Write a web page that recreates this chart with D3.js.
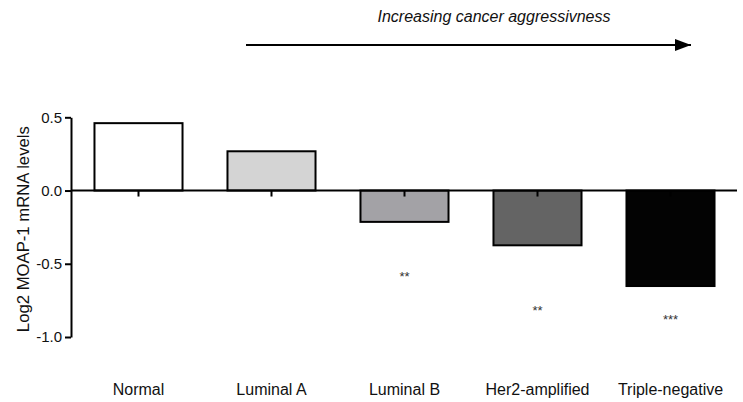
<!DOCTYPE html>
<html>
<head>
<meta charset="utf-8">
<script src="https://cdn.jsdelivr.net/npm/d3@7"></script>
<style>
  html, body { margin: 0; padding: 0; background: #fff; }
  svg { display: block; font-family: Arial, "Liberation Sans", sans-serif; }
</style>
</head>
<body>
<div id="chart"></div>
<script>
const categories = ["Normal", "Luminal A", "Luminal B", "Her2-amplified", "Triple-negative"];
const values = [0.46, 0.268, -0.214, -0.374, -0.652];
const barColors = ["#ffffff", "#d4d4d4", "#a3a2a6", "#646464", "#030303"];
const sigLabels = ["", "", "**", "**", "***"];
const sigLevels = [null, null, -0.585, -0.815, -0.875]; // where the stars sit, in axis units
const yTicks = [0.5, 0.0, -0.5, -1.0];

const width = 743, height = 402;

const svg = d3.select("#chart").append("svg")
  .attr("width", width)
  .attr("height", height);

const x = d3.scaleBand()
  .domain(categories)
  .range([72, 737])
  .paddingInner(0.338)
  .paddingOuter(0.169);

const y = d3.scaleLinear()
  .domain([-1, 0.5])
  .range([337, 117.3]);

// bars
svg.append("g")
  .selectAll("rect")
  .data(categories)
  .join("rect")
  .attr("x", d => x(d))
  .attr("width", x.bandwidth())
  .attr("y", (d, i) => y(Math.max(0, values[i])))
  .attr("height", (d, i) => Math.abs(y(values[i]) - y(0)))
  .attr("fill", (d, i) => barColors[i])
  .attr("stroke", "#000")
  .attr("stroke-width", 2);

// zero line with category ticks
const xAxis = svg.append("g")
  .attr("transform", `translate(0,${y(0)})`)
  .call(d3.axisBottom(x).tickSize(6).tickFormat(""));
xAxis.select(".domain").attr("d", `M${x.range()[0]},0H${x.range()[1]}`).attr("stroke-width", 2);
xAxis.selectAll(".tick line").attr("stroke-width", 2);

// category labels
svg.append("g")
  .selectAll("text")
  .data(categories)
  .join("text")
  .attr("x", d => x(d) + x.bandwidth() / 2)
  .attr("y", 395)
  .attr("text-anchor", "middle")
  .attr("font-size", 16)
  .attr("fill", "#111")
  .text(d => d);

// y axis
const fmt = d3.format(".1f");
const yAxis = svg.append("g")
  .attr("transform", "translate(71,0)")
  .call(d3.axisLeft(y).tickValues(yTicks).tickSize(6).tickSizeOuter(0).tickPadding(3)
    .tickFormat(d => fmt(d).replace("\u2212", "-")));
yAxis.select(".domain").attr("stroke-width", 2);
yAxis.selectAll(".tick line").attr("stroke-width", 2);
yAxis.selectAll(".tick text").attr("font-size", 15).attr("fill", "#111").attr("font-family", "Arial, 'Liberation Sans', sans-serif");

svg.append("text")
  .attr("transform", `translate(29,${(y(0.5) + y(-1)) / 2 + 2}) rotate(-90)`)
  .attr("text-anchor", "middle")
  .attr("font-size", 16)
  .attr("textLength", 206)
  .attr("lengthAdjust", "spacingAndGlyphs")
  .attr("fill", "#111")
  .text("Log2 MOAP-1 mRNA levels");

// significance stars
svg.append("g")
  .selectAll("text")
  .data(categories.filter((d, i) => sigLabels[i]))
  .join("text")
  .attr("x", d => x(d) + x.bandwidth() / 2)
  .attr("y", d => y(sigLevels[categories.indexOf(d)]) + 5)
  .attr("text-anchor", "middle")
  .attr("font-size", 13)
  .attr("fill", "#333")
  .text(d => sigLabels[categories.indexOf(d)]);

// arrow + caption
svg.append("defs").append("marker")
  .attr("id", "head")
  .attr("viewBox", "0 0 16 12")
  .attr("refX", 16).attr("refY", 6)
  .attr("markerWidth", 16).attr("markerHeight", 12)
  .attr("markerUnits", "userSpaceOnUse")
  .attr("orient", "auto")
  .append("path")
  .attr("d", "M0,0L16,6L0,12Z")
  .attr("fill", "#000");

svg.append("line")
  .attr("x1", 246).attr("x2", 691)
  .attr("y1", 45).attr("y2", 45)
  .attr("stroke", "#000")
  .attr("stroke-width", 2)
  .attr("marker-end", "url(#head)");

svg.append("text")
  .attr("x", 494)
  .attr("y", 22)
  .attr("text-anchor", "middle")
  .attr("font-size", 16)
  .attr("font-style", "italic")
  .attr("fill", "#111")
  .text("Increasing cancer aggressivness");
</script>
</body>
</html>
